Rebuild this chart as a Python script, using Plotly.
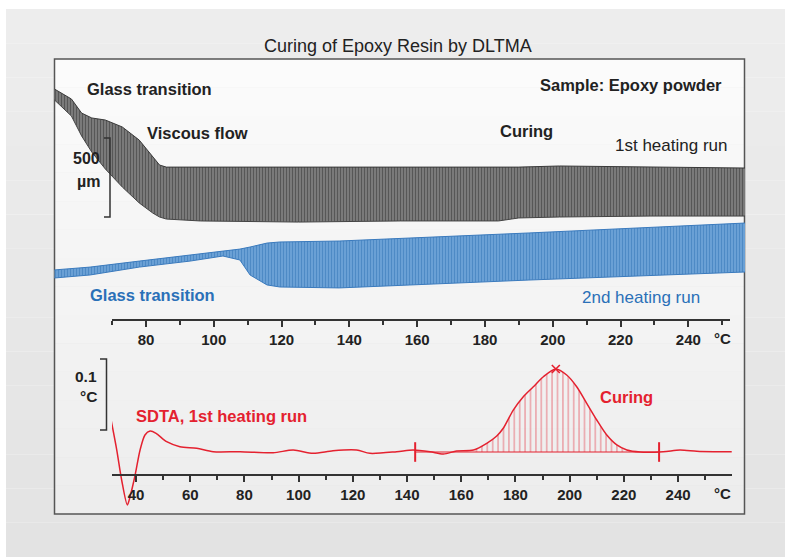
import plotly.graph_objects as go

FONT = "Liberation Sans, Arial, sans-serif"

# DLTMA 1st heating run, envelope of the oscillating signal (um)
black_t = [53, 58, 61, 64, 68, 73, 78, 82, 84, 86, 96, 125, 155, 184, 190, 202, 229, 257]
black_upper = [1462, 1399, 1310, 1279, 1266, 1222, 1139, 1032, 981, 968, 968, 968, 968, 968, 968, 975, 968, 962]
black_lower = [1393, 1291, 1165, 1063, 956, 842, 741, 677, 652, 639, 627, 620, 627, 627, 646, 652, 658, 658]

# DLTMA 2nd heating run (um)
blue_t = [53, 63.5, 78, 93, 102.7, 107.7, 110.7, 115.7, 119.5, 137, 193, 257]
blue_upper = [317, 335, 373, 411, 437, 449, 462, 487, 494, 500, 551, 614]
blue_lower = [266, 285, 335, 373, 405, 380, 285, 222, 209, 203, 253, 304]

# SDTA signal, 1st heating run (deg C)
sdta_t = [30.8, 32.9, 34.7, 36.8, 37.8, 39.6, 41.5, 43.3, 45.2, 47.4, 51.3, 56.2, 62.4,
          68.5, 78.4, 90.6, 98.0, 105.3, 112.7, 121.4, 126.3, 136.2, 142.2, 148.5,
          153.4, 158.3, 164.5, 169.4, 173.1, 175.5, 179.2, 182.9, 186.6, 190.3, 194.9,
          198.9, 202.6, 206.3, 210.0, 213.7, 217.4, 221.1, 226.0, 234.5, 240.7, 246.9,
          253.0, 259.8]
sdta_v = [0.0451, 0.0028, -0.0394, -0.0746, -0.0629, -0.0338, 0.0028, 0.0240, 0.0296,
          0.0263, 0.0145, 0.0075, 0.0052, 0.0004, 0.0004, -0.0010, 0.0028, -0.0018,
          0.0018, 0.0028, -0.0018, 0.0004, 0.0028, 0.0004, -0.0028, 0.0014, 0.0028,
          0.0122, 0.0225, 0.0334, 0.0591, 0.0779, 0.0919, 0.1060, 0.1169, 0.1084,
          0.0919, 0.0686, 0.0451, 0.0239, 0.0099, 0.0028, 0.0000, 0.0004, 0.0028,
          0.0010, 0.0004, 0.0004]

hatch_limits = [164.5, 221.1]
integration_limits = [143, 233]
top_ticks = [80, 100, 120, 140, 160, 180, 200, 220, 240]
bottom_ticks = [40, 60, 80, 100, 120, 140, 160, 180, 200, 220, 240]

W, H = 785, 557


def px(x):
    return x / W


def py(y):
    return 1 - y / H


RED = "#e4212f"
BLUE = "#2a70b8"

fig = go.Figure()

# 1st heating run band
fig.add_trace(go.Scatter(x=black_t, y=black_lower, mode="lines",
                         line=dict(color="#444444", width=1), hoverinfo="skip"))
fig.add_trace(go.Scatter(x=black_t, y=black_upper, mode="lines", fill="tonexty",
                         line=dict(color="#3a3a3a", width=1),
                         fillpattern=dict(shape="|", fgcolor="#2a2a2a", bgcolor="#858585",
                                          size=3, solidity=0.5),
                         hoverinfo="skip"))

# 2nd heating run band
fig.add_trace(go.Scatter(x=blue_t, y=blue_lower, mode="lines",
                         line=dict(color="#3a7abd", width=1), hoverinfo="skip"))
fig.add_trace(go.Scatter(x=blue_t, y=blue_upper, mode="lines", fill="tonexty",
                         line=dict(color="#3a7abd", width=1),
                         fillpattern=dict(shape="|", fgcolor="#2a6db0", bgcolor="#72a7da",
                                          size=3, solidity=0.5),
                         hoverinfo="skip"))

# dummy trace so the top temperature axis gets drawn
fig.add_trace(go.Scatter(x=[top_ticks[0]], y=[None], xaxis="x3", yaxis="y",
                         mode="markers", hoverinfo="skip"))

# SDTA: hatched curing peak
hx = [t for t in sdta_t if hatch_limits[0] <= t <= hatch_limits[1]]
hy = [v for t, v in zip(sdta_t, sdta_v) if hatch_limits[0] <= t <= hatch_limits[1]]
fig.add_trace(go.Scatter(x=hatch_limits, y=[0, 0], mode="lines", line=dict(width=0),
                         xaxis="x2", yaxis="y2", hoverinfo="skip"))
fig.add_trace(go.Scatter(x=hx, y=hy, mode="lines", fill="tonexty",
                         line=dict(width=0, shape="spline", smoothing=0.8),
                         fillpattern=dict(shape="|", fgcolor="#e3404d", bgcolor="rgba(0,0,0,0)",
                                          size=5.4, solidity=0.25),
                         xaxis="x2", yaxis="y2", hoverinfo="skip"))

# integration baseline with limit marks
fig.add_trace(go.Scatter(x=integration_limits, y=[0, 0], mode="lines+markers",
                         line=dict(color=RED, width=1.2),
                         marker=dict(symbol="line-ns", size=14,
                                     line=dict(color=RED, width=2)),
                         xaxis="x2", yaxis="y2", hoverinfo="skip"))

# SDTA curve
fig.add_trace(go.Scatter(x=sdta_t, y=sdta_v, mode="lines",
                         line=dict(color=RED, width=1.5, shape="spline", smoothing=0.8),
                         xaxis="x2", yaxis="y2"))

# peak mark
ipk = sdta_v.index(max(sdta_v))
fig.add_trace(go.Scatter(x=[sdta_t[ipk]], y=[sdta_v[ipk]], mode="markers",
                         marker=dict(symbol="x-thin", size=8, line=dict(color=RED, width=1.6)),
                         xaxis="x2", yaxis="y2", hoverinfo="skip"))

tickfont = dict(family=FONT, size=15, color="#222222", weight="bold")
axis_common = dict(showgrid=False, zeroline=False, showline=True, linecolor="#333333",
                   linewidth=1.5, ticks="outside", ticklen=6, tickwidth=1.5,
                   tickcolor="#333333", tickfont=tickfont, tickmode="array",
                   fixedrange=True)

# scale of top plot: 3.389 px per deg C, 6.33 um per px
fig.update_layout(
    width=W, height=H,
    margin=dict(l=0, r=0, t=0, b=0),
    paper_bgcolor="white",
    plot_bgcolor="rgba(0,0,0,0)",
    showlegend=False,
    xaxis=dict(domain=[px(54), px(745)], range=[52.85, 256.75], visible=False,
               anchor="y", fixedrange=True),
    yaxis=dict(domain=[py(320), py(60)], range=[0, 1646], visible=False, fixedrange=True),
    xaxis3=dict(domain=[px(112), px(730)], range=[69.97, 252.3], anchor="free",
                position=py(320), tickvals=top_ticks,
                minor=dict(tickmode="linear", tick0=70, dtick=10, ticks="outside",
                           ticklen=4, tickwidth=1.5, tickcolor="#333333"),
                **axis_common),
    xaxis2=dict(domain=[px(112), px(732)], range=[31.14, 259.9], anchor="free",
                position=py(475), tickvals=bottom_ticks,
                minor=dict(tickmode="linear", tick0=30, dtick=10, ticks="outside",
                           ticklen=4, tickwidth=1.5, tickcolor="#333333"),
                **axis_common),
    yaxis2=dict(domain=[py(515), py(355)], range=[-0.0887, 0.1366], visible=False,
                anchor="x2", fixedrange=True),
)

# background: grey panel and light frame, both with a soft vertical gradient
shapes = []
n = 16
for i in range(n):
    y0 = 9 + (557 - 9) * i / n
    y1 = 9 + (557 - 9) * (i + 1) / n
    g = round(237 - 10 * i / (n - 1))
    shapes.append(dict(type="rect", xref="paper", yref="paper", x0=px(6), x1=1,
                       y0=py(y1), y1=py(y0), fillcolor=f"rgb({g},{g},{g})",
                       line=dict(width=0), layer="below"))
for i in range(n):
    y0 = 59 + (514 - 59) * i / n
    y1 = 59 + (514 - 59) * (i + 1) / n
    g = round(251 - 14 * i / (n - 1))
    shapes.append(dict(type="rect", xref="paper", yref="paper", x0=px(54.5), x1=px(744.5),
                       y0=py(y1), y1=py(y0), fillcolor=f"rgb({g},{g},{g})",
                       line=dict(width=0), layer="below"))
shapes.append(dict(type="rect", xref="paper", yref="paper", x0=px(54.5), x1=px(744.5),
                   y0=py(514), y1=py(59), line=dict(color="#555555", width=1.5),
                   layer="below"))

# scale bars
um_bar = [652, 1152]
c_bar = [0.031, 0.131]
shapes.append(dict(type="path", xref="paper", yref="y",
                   path=f"M {px(104)},{um_bar[1]} L {px(110)},{um_bar[1]} "
                        f"L {px(110)},{um_bar[0]} L {px(104)},{um_bar[0]}",
                   line=dict(color="#333333", width=1.5)))
shapes.append(dict(type="path", xref="paper", yref="y2",
                   path=f"M {px(100)},{c_bar[1]} L {px(106.5)},{c_bar[1]} "
                        f"L {px(106.5)},{c_bar[0]} L {px(100)},{c_bar[0]}",
                   line=dict(color="#333333", width=1.5)))
fig.update_layout(shapes=shapes)


def label(text, x, y, size=16.5, color="#222222", bold=True, xanchor="left"):
    fig.add_annotation(text=text, x=px(x), y=py(y), xref="paper", yref="paper",
                       xanchor=xanchor, yanchor="middle", showarrow=False,
                       font=dict(family=FONT, size=size, color=color,
                                 weight="bold" if bold else "normal"))


label("Curing of Epoxy Resin by DLTMA", 398, 46, size=18, bold=False, xanchor="center")
label("Glass transition", 85, 89)
label("Viscous flow", 145, 133)
label("Sample: Epoxy powder", 724, 85, xanchor="right")
label("Curing", 498, 131)
label("1st heating run", 729, 146, size=17, bold=False, xanchor="right")
label("500", 102, 159, size=16, xanchor="right")
label("µm", 102, 181, size=16, xanchor="right")
label("Glass transition", 88, 295, color=BLUE)
label("2nd heating run", 702, 297, size=17, bold=False, color=BLUE, xanchor="right")
label("°C", 722, 338, size=15, xanchor="center")
label("0.1", 99, 376, size=15.5, xanchor="right")
label("°C", 99, 396, size=15.5, xanchor="right")
label("SDTA, 1st heating run", 134, 416, color=RED)
label("Curing", 598, 397, color=RED)
label("°C", 722, 493, size=15, xanchor="center")

# drop the default 8px page margin so the figure sits at the window corner
fig.write_html("out.html", config={"displayModeBar": False},
               post_script="document.body.style.margin='0';document.body.style.overflow='hidden';")
